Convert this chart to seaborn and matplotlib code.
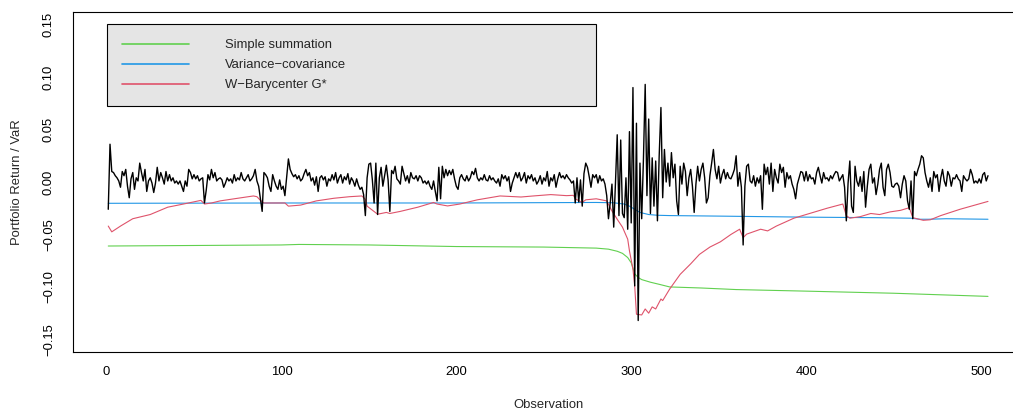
import numpy as np
import pandas as pd
import seaborn as sns
import matplotlib
matplotlib.use("Agg")
import matplotlib.pyplot as plt
from matplotlib.lines import Line2D

# portfolio return, one value per observation
port_ret = [
    -0.026, 0.036, 0.010, 0.009, 0.006, 0.004, 0.001, -0.005, 0.010, 0.006,
    0.012, -0.004, -0.015, 0.003, 0.009, -0.007, 0.004, 0.001, 0.018, 0.009,
    0.001, 0.012, -0.009, 0.001, 0.004, -0.001, -0.010, -0.001, 0.014, 0.001,
    0.009, 0.004, -0.002, 0.010, 0.001, 0.007, 0.001, 0.004, -0.001, 0.001,
    -0.002, 0.001, -0.004, -0.009, 0.001, -0.004, 0.012, 0.009, 0.003, 0.007,
    0.003, 0.006, 0.001, 0.003,
    0.004, -0.020, -0.008, 0.007, 0.002, 0.012, 0.004, 0.009, 0.001, 0.003,
    0.004, 0.002, -0.005, -0.001, 0.004, 0.001, 0.003, -0.001, 0.007, 0.001,
    0.004, 0.002, 0.009, 0.003, 0.001, 0.004, 0.007, 0.001, 0.003, 0.006,
    0.012, 0.001, -0.004, -0.016, -0.028, 0.009, 0.007, 0.004, -0.004, -0.009,
    0.007, 0.001, -0.004, -0.007, 0.002, -0.007, -0.004, -0.013, 0.004, 0.022,
    0.012, 0.008, 0.005, 0.007, 0.003, 0.006, 0.001,
    0.003, 0.008, 0.012, 0.006, 0.009, 0.001, 0.004, -0.003, 0.005, -0.009,
    0.004, 0.006, 0.002, 0.005, -0.004, 0.003, 0.001, 0.007, 0.002, 0.009,
    -0.001, 0.004, 0.007, -0.001, 0.005, 0.002, 0.008, -0.002, 0.004, 0.001,
    -0.004, 0.003, -0.003, -0.007, -0.005, -0.012, -0.032, 0.004, 0.017, 0.018,
    0.002, -0.020, 0.018, -0.031, 0.004, 0.014, -0.004, 0.006, 0.016, 0.002,
    -0.028, 0.011, 0.008, 0.015, 0.003, 0.001, -0.002,
    0.015, 0.008, 0.001, 0.006, -0.001, 0.009, 0.004, 0.003, 0.006, 0.001,
    0.006, 0.004, -0.001, 0.001, -0.002, 0.001, -0.004, -0.007, 0.001, -0.009,
    -0.018, 0.014, -0.016, 0.015, 0.004, 0.012, 0.006, 0.011, 0.007, 0.012,
    0.003, -0.004, -0.007, 0.004, 0.007, 0.003, 0.001, 0.006, 0.001, 0.004,
    0.010, 0.007, 0.013, 0.004, 0.001, 0.004, 0.002, 0.007, 0.002, 0.001,
    0.006, 0.002, 0.004, 0.001, -0.001, 0.003, -0.004,
    0.007, 0.003, 0.006, 0.001, 0.005, -0.009, -0.001, 0.004, 0.009, 0.004,
    0.009, 0.001, 0.004, 0.009, -0.001, 0.006, 0.003, 0.007, 0.001, 0.004,
    -0.002, 0.001, 0.006, -0.002, 0.004, 0.001, 0.010, -0.004, 0.004, 0.001,
    0.007, -0.005, 0.003, 0.009, 0.004, 0.006, 0.003, 0.007, 0.004, 0.002,
    -0.001, 0.001, -0.020, 0.004, -0.019,
    0.002, -0.023, 0.008, 0.018, 0.014, 0.005, -0.005, 0.007, 0.004, 0.007,
    -0.001, 0.006, 0.001, 0.003, -0.002, -0.013, -0.035, -0.020, -0.002, -0.043,
    -0.001, 0.045, -0.032, 0.040, -0.030, -0.034, 0.004, -0.045, 0.048, -0.039,
    0.090, -0.099, 0.056, -0.132, 0.018, -0.035, 0.022, 0.093, -0.013, 0.060,
    -0.030, 0.023, -0.023, 0.020, -0.037, 0.025, 0.071,
    -0.015, 0.031, 0.000, 0.018, -0.004, 0.028, 0.004, 0.017, -0.018, -0.031,
    0.015, -0.002, 0.018, 0.010, -0.013, 0.004, 0.012, -0.004, -0.029, -0.002,
    0.015, 0.001, 0.012, 0.018, 0.004, -0.020, -0.015, 0.006, 0.018, 0.031,
    0.012, 0.003, 0.015, -0.001, 0.007, 0.012, 0.003, 0.009, 0.004, 0.003,
    0.007, 0.012, 0.025, -0.004, 0.009, -0.005, -0.060, -0.004, 0.015, 0.017,
    0.001, -0.001, 0.006, -0.004, 0.004, -0.001, 0.006,
    -0.026, 0.017, 0.007, 0.014, -0.002, 0.018, -0.009, 0.012, 0.004, -0.001,
    0.017, 0.009, 0.014, -0.005, 0.009, 0.003, 0.006, -0.002, -0.007, -0.016,
    -0.002, 0.004, 0.010, 0.009, 0.001, 0.010, 0.001, 0.007, 0.003, 0.004,
    -0.002, 0.009, 0.014, 0.006, -0.001, 0.009, 0.003, 0.004, 0.001, 0.006,
    0.003, 0.007, 0.010, 0.009, 0.001, 0.004, 0.007, -0.005, -0.037, -0.001,
    0.020, -0.023, -0.029, 0.015, 0.001, -0.004, 0.005,
    -0.009, 0.010, -0.024, -0.004, 0.012, 0.017, -0.001, 0.004, -0.012, -0.002,
    0.012, 0.018, -0.005, -0.013, 0.012, 0.017, 0.009, -0.004, -0.005, -0.002,
    -0.001, -0.004, -0.015, -0.002, 0.006, 0.001, -0.018, -0.026, 0.001, -0.035,
    0.010, 0.006, 0.012, 0.017, 0.025, 0.023, 0.009, 0.001, -0.005, 0.004,
    -0.009, 0.010, 0.004, 0.007, -0.009,
    0.004, 0.012, 0.001, -0.004, 0.010, 0.006, -0.004, 0.004, 0.003, 0.007,
    0.003, 0.001, -0.009, 0.006, 0.003, 0.001, 0.003, 0.012, 0.007, -0.001,
    0.001, -0.001, 0.003, -0.001, 0.007, 0.009, 0.001, 0.006,
]

# VaR estimates, read at selected observations
simple_obs = [1, 50, 100, 110, 150, 200, 250, 280, 287, 292, 295, 298, 300, 302,
              304, 306, 311, 316, 322, 340, 360, 400, 450, 504]
simple_var = [-0.061, -0.0605, -0.0600, -0.0595, -0.0600, -0.0615, -0.0620, -0.0630,
              -0.0640, -0.0660, -0.0680, -0.0720, -0.0770, -0.0875, -0.0910, -0.0930,
              -0.0955, -0.0975, -0.1000, -0.1010, -0.1025, -0.1040, -0.1060, -0.1090]

varcov_obs = [1, 100, 200, 280, 290, 296, 299, 302, 305, 310, 315, 322, 350, 400,
              440, 460, 465, 470, 480, 504]
varcov_var = [-0.0203, -0.0200, -0.0200, -0.0195, -0.0198, -0.0210, -0.0230, -0.0260,
              -0.0290, -0.0310, -0.0317, -0.0320, -0.0325, -0.0335, -0.0340, -0.0345,
              -0.0355, -0.0355, -0.0350, -0.0355]

wbary_obs = [1, 3, 8, 15, 25, 35, 44, 54, 56, 60, 65, 73, 84, 86, 88, 90, 96, 102,
             104, 111, 120, 130, 139, 146, 148, 149, 155, 160, 162, 168, 178, 187,
             189, 195, 202, 212, 225, 237, 244, 254, 263, 267, 268, 272, 274, 280,
             286, 289, 292, 295, 298, 299, 301, 302, 303, 306, 308, 310, 312, 314,
             317, 318, 322, 328, 334, 339, 345, 351, 357, 362, 364, 366, 374, 378,
             383, 393, 402, 412, 421, 423, 425, 431, 437, 442, 448, 454, 459, 461,
             467, 471, 477, 488, 504]
wbary_var = [-0.042, -0.0475, -0.042, -0.035, -0.031, -0.024, -0.021, -0.0175, -0.021,
             -0.020, -0.018, -0.016, -0.0133, -0.014, -0.0175, -0.020, -0.020, -0.020,
             -0.023, -0.022, -0.018, -0.0155, -0.014, -0.0133, -0.0165, -0.023, -0.0307,
             -0.029, -0.030, -0.028, -0.024, -0.0195, -0.021, -0.0228, -0.021, -0.017,
             -0.0133, -0.0143, -0.0133, -0.012, -0.013, -0.0127, -0.016, -0.0195, -0.017,
             -0.016, -0.018, -0.0276, -0.0355, -0.043, -0.0545, -0.0656, -0.083, -0.099,
             -0.126, -0.1267, -0.121, -0.125, -0.119, -0.121, -0.1115, -0.113, -0.102,
             -0.088, -0.078, -0.069, -0.062, -0.057, -0.050, -0.045, -0.053, -0.0497,
             -0.045, -0.0466, -0.042, -0.0345, -0.030, -0.025, -0.021, -0.032, -0.0345,
             -0.033, -0.030, -0.031, -0.0285, -0.027, -0.0245, -0.034, -0.0365, -0.036,
             -0.032, -0.026, -0.0185]

legend_labels = ["Simple summation", "Variance\u2212covariance", "W\u2212Barycenter G*"]
y_ticks = [-0.15, -0.10, -0.05, 0.00, 0.05, 0.10, 0.15]
x_ticks = [0, 100, 200, 300, 400, 500]

col_green = "#61D04F"
col_blue = "#2297E6"
col_red = "#DF536B"

sns.set_style("white")
plt.rcParams["font.family"] = ["Liberation Sans", "DejaVu Sans"]
plt.rcParams["font.size"] = 9.4

fig = plt.figure(figsize=(10.13, 4.12), dpi=100)
ax = fig.add_axes([73 / 1013, 60 / 412, 952 / 1013, 340 / 412])

obs = np.arange(1, len(port_ret) + 1)
sns.lineplot(x=simple_obs, y=simple_var, color=col_green, linewidth=0.8, ax=ax)
sns.lineplot(x=varcov_obs, y=varcov_var, color=col_blue, linewidth=0.8, ax=ax)
sns.lineplot(x=wbary_obs, y=wbary_var, color=col_red, linewidth=0.8, ax=ax)
sns.lineplot(x=obs, y=port_ret, color="black", linewidth=1.0, ax=ax)

ax.set_xlim(-19.16, 525.16)
ax.set_ylim(-0.162, 0.162)
ax.set_xticks(x_ticks)
ax.set_xticklabels([str(t) for t in x_ticks])
ax.set_yticks(y_ticks)
ax.set_yticklabels([f"{t:.2f}".replace("-", "\u2212") for t in y_ticks],
                   rotation=90, va="center")
ax.tick_params(axis="both", direction="out", length=5, width=0.8, color="black",
               labelsize=9.4, labelcolor="black")
ax.tick_params(axis="y", pad=8)
ax.tick_params(axis="x", pad=5)
for s in ax.spines.values():
    s.set_color("black")
    s.set_linewidth(0.8)

ax.set_xlabel("Observation", fontsize=9.4)
ax.set_ylabel("Portfolio Return / VaR", fontsize=9.4)
ax.xaxis.set_label_coords(0.5, -0.137)
ax.yaxis.set_label_coords(-0.0525, 0.5)

handles = [Line2D([], [], color=c, linewidth=1.2) for c in (col_green, col_blue, col_red)]
leg = ax.legend(handles, legend_labels, loc="upper left",
                bbox_to_anchor=(0.0357, 0.7294, 0.5137, 0.2353), mode="expand",
                borderaxespad=0, borderpad=1.15, labelspacing=0.6,
                handlelength=5.1, handletextpad=2.77, fontsize=9.4,
                fancybox=False, framealpha=1, facecolor="#E5E5E5", edgecolor="black")
leg.get_frame().set_linewidth(0.8)

fig.savefig("out.png", dpi=100)
